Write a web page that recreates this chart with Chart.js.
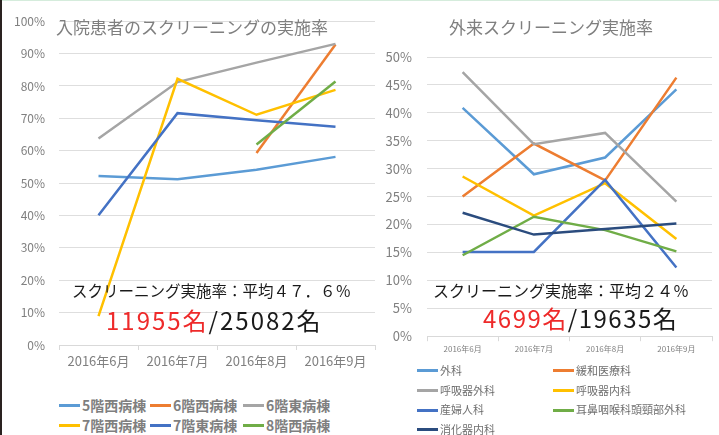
<!DOCTYPE html>
<html lang="ja">
<head>
<meta charset="utf-8">
<script src="https://cdn.jsdelivr.net/npm/chart.js@4.4.1/dist/chart.umd.min.js"></script>
<style>
  html, body { margin: 0; padding: 0; background: #fff; }
  body { width: 719px; height: 435px; position: relative; overflow: hidden; font-family: "Noto Sans CJK JP", sans-serif; }
  #frameTop { position: absolute; left: 0; top: 0; width: 719px; height: 1px; background: #d5ecdc; }
  #frameLeft { position: absolute; left: 0; top: 0; width: 2px; height: 435px; background: #2a2220; }
  canvas { position: absolute; }
  .title { position: absolute; color: #7f7f7f; font-size: 17px; line-height: 20px; white-space: nowrap; }
  .note { position: absolute; color: #1a1a1a; white-space: nowrap; }
  .red { color: #ee2a2a; }
  .legend { position: absolute; display: grid; }
  .item { display: flex; align-items: center; white-space: nowrap; }
  .swatch { width: 21px; height: 3px; margin-right: 2px; flex: none; }
  #legendL { left: 59px; top: 395px; grid-template-columns: 91px 93px 93px; grid-auto-rows: 20px;
             font-size: 14px; font-weight: bold; color: #7f7f7f; line-height: 20px; }
  #legendR { left: 417px; top: 361px; grid-template-columns: 136px 160px; grid-auto-rows: 19.7px;
             font-size: 11px; color: #6f6f6f; line-height: 19.7px; }
</style>
</head>
<body>
<div id="frameTop"></div>
<div id="frameLeft"></div>

<canvas id="chartL" width="378" height="372" style="left:0;top:0"></canvas>
<canvas id="chartR" width="345" height="359" style="left:370px;top:0"></canvas>

<div class="title" style="left:56px;top:17px">入院患者のスクリーニングの実施率</div>
<div class="title" style="left:449px;top:17px">外来スクリーニング実施率</div>

<div class="note" style="left:72px;top:280px;font-size:15.5px;line-height:20px">スクリーニング実施率：平均４７．６％</div>
<div class="note" style="left:106px;top:305px;font-size:24px;line-height:30px;letter-spacing:2px"><span class="red">11955名</span>/25082名</div>

<div class="note" style="left:433px;top:280px;font-size:16px;line-height:20px">スクリーニング実施率：平均２４％</div>
<div class="note" style="left:483px;top:303px;font-size:24px;line-height:30px;letter-spacing:1.5px"><span class="red">4699名</span>/19635名</div>

<div class="legend" id="legendL"></div>
<div class="legend" id="legendR"></div>

<script>
const FONT = '"Noto Sans CJK JP", sans-serif';
const months = ['2016年6月', '2016年7月', '2016年8月', '2016年9月'];

// 入院 (wards), percent
const wardNames = ['5階西病棟', '6階西病棟', '6階東病棟', '7階西病棟', '7階東病棟', '8階西病棟'];
const ward5W = [52.2, 51.2, 54.1, 58.1];
const ward6W = [null, null, 59.3, 92.8];
const ward6E = [63.8, 81.2, 87.2, 93.0];
const ward7W = [8.9, 82.2, 71.1, 78.8];
const ward7E = [40.1, 71.6, 69.4, 67.4];
const ward8W = [null, null, 61.9, 81.4];
const wardColors = ['#5b9bd5', '#ed7d31', '#a5a5a5', '#ffc000', '#4472c4', '#70ad47'];

// 外来 (departments), percent
const deptNames = ['外科', '緩和医療科', '呼吸器外科', '呼吸器内科', '産婦人科', '耳鼻咽喉科頭頸部外科', '消化器内科'];
const geka = [40.9, 29.0, 32.0, 44.2];
const kanwa = [25.0, 34.5, 27.9, 46.3];
const kokyuGeka = [47.3, 34.4, 36.4, 24.1];
const kokyuNaika = [28.6, 21.6, 27.4, 17.4];
const sanfujin = [15.1, 15.1, 28.0, 12.3];
const jibika = [14.5, 21.4, 19.0, 15.2];
const shokaki = [22.1, 18.2, 19.2, 20.2];
const deptColors = ['#5b9bd5', '#ed7d31', '#a5a5a5', '#ffc000', '#4472c4', '#70ad47', '#2b4c7e'];

function buildSets(names, series, colors) {
  return names.map((n, i) => ({
    label: n,
    data: series[i],
    borderColor: colors[i],
    backgroundColor: colors[i],
    borderWidth: 2.5,
    pointRadius: 0,
    tension: 0,
    spanGaps: false,
    order: -i, // later series on top, like Excel
  }));
}

function lineOptions(o) {
  return {
    responsive: false,
    animation: false,
    layout: { padding: { top: o.top, right: 3, left: 0, bottom: 0 } },
    plugins: { legend: { display: false }, tooltip: { enabled: false } },
    scales: {
      x: {
        offset: true,
        grid: { drawOnChartArea: false, drawTicks: true, tickLength: 5, offset: true, color: '#d9d9d9' },
        border: { display: true, color: '#d9d9d9' },
        ticks: { color: '#808080', font: { size: o.xFont, family: FONT }, padding: o.xPad, maxRotation: 0, autoSkip: false },
        afterFit(s) { s.height = o.xHeight; },
      },
      y: {
        min: 0,
        max: o.max,
        ticks: { stepSize: o.step, callback: v => v + '%', color: '#808080', font: { size: o.yFont, family: FONT }, padding: o.yPad },
        grid: { color: '#dedede', drawTicks: false },
        border: { display: false },
        afterFit(s) { s.width = o.yWidth; },
      },
    },
  };
}

const chartL = new Chart(document.getElementById('chartL'), {
  type: 'line',
  data: { labels: months, datasets: buildSets(wardNames, [ward5W, ward6W, ward6E, ward7W, ward7E, ward8W], wardColors) },
  options: lineOptions({ top: 20, max: 100, step: 10, xFont: 13, xPad: 3, xHeight: 27, yFont: 12, yPad: 14, yWidth: 59 }),
});

const chartR = new Chart(document.getElementById('chartR'), {
  type: 'line',
  data: { labels: months, datasets: buildSets(deptNames, [geka, kanwa, kokyuGeka, kokyuNaika, sanfujin, jibika, shokaki], deptColors) },
  options: lineOptions({ top: 57, max: 50, step: 5, xFont: 8, xPad: 3, xHeight: 22, yFont: 13, yPad: 15, yWidth: 57 }),
});

// HTML legends built from the chart datasets
function renderLegend(chart, elId) {
  const el = document.getElementById(elId);
  el.innerHTML = chart.data.datasets.map(d => `
    <div class="item"><span class="swatch" style="background:${d.borderColor}"></span><span>${d.label}</span></div>
  `).join('');
}
renderLegend(chartL, 'legendL');
renderLegend(chartR, 'legendR');
</script>
</body>
</html>
